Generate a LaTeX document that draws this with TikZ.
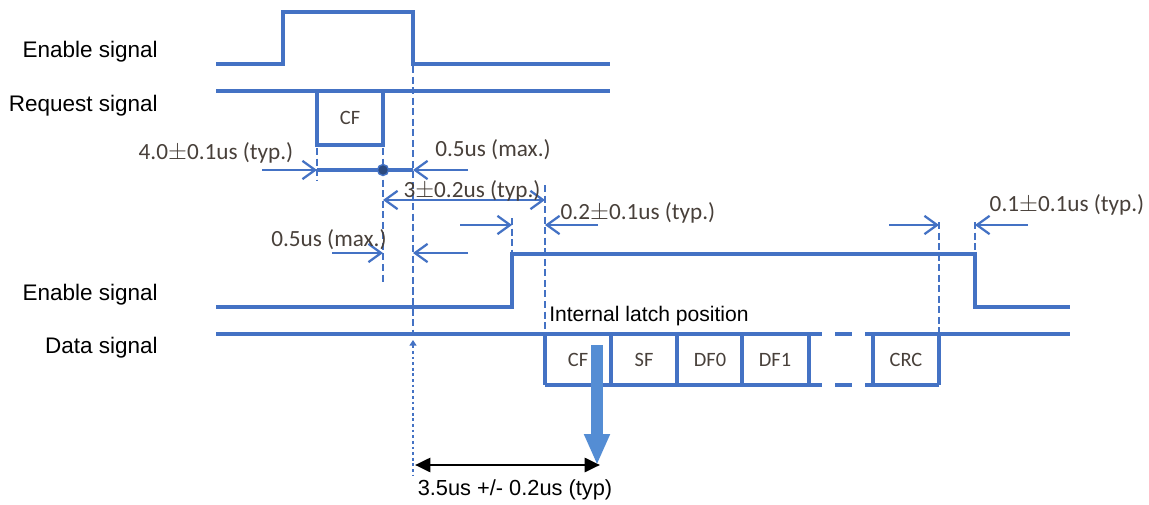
\documentclass[tikz,border=0pt]{standalone}
\usepackage{fontspec}
\setmainfont{Liberation Sans}
\newfontfamily\calibfont{Carlito}
\usetikzlibrary{arrows.meta, positioning}
\definecolor{wave}{RGB}{68,114,196}
\definecolor{latch}{RGB}{84,141,212}
\definecolor{notegray}{RGB}{72,64,58}

\begin{document}
\begin{tikzpicture}[
    x=0.025cm, y=-0.025cm,
    signal/.style={draw=wave, line width=3.2pt},
    frame/.style={draw=wave, line width=2.5pt},
    guide/.style={draw=wave, line width=1.6pt, dash pattern=on 5pt off 2.5pt},
    dim/.style={draw=wave, line width=1.6pt, -{Straight Barb[length=9pt, width=13pt]}},
    signame/.style={anchor=east, inner sep=0pt, font=\fontsize{16}{19}\selectfont},
    note/.style={inner sep=0pt, text=notegray, font=\calibfont\fontsize{16.5}{19}\selectfont},
    field/.style={inner sep=0pt, text=notegray, font=\calibfont\fontsize{14.5}{16}\selectfont}
]
\useasboundingbox (0,0) rectangle (1149,505);

% Signal names
\node[signame] (en1)  at (158,52)  {Enable signal};
\node[signame] (req)  at (158,106) {Request signal};
\node[signame] (en2)  at (158,295) {Enable signal};
\node[signame] (data) at (158,348) {Data signal};

% Waveforms
\draw[signal] (216,64) -- (283,64) -- (283,12) -- (413,12) -- (413,64) -- (610,64);
\draw[signal] (216,91) -- (610,91);
\draw[frame] (317,91) -- (317,145) -- (383,145) -- (383,91);
\node[field] (reqcf) at (350,118) {CF};

\draw[signal] (216,307) -- (512,307) -- (512,254) -- (975,254) -- (975,307) -- (1070,307);

\draw[signal] (216,334) -- (822,334);
\draw[signal] (835,334) -- (852,334);
\draw[signal] (865,334) -- (1070,334);
\draw[frame] (545,385) -- (822,385);
\draw[frame] (835,385) -- (852,385);
\draw[frame] (865,385) -- (939,385);
\foreach \x in {545,611,677,742,809,873,939}
    \draw[frame] (\x,334) -- (\x,385);

\node[field] (f1) at (578,360) {CF};
\node[field] (f2) at (644,360) {SF};
\node[field] (f3) at (710,360) {DF0};
\node[field] (f4) at (775,360) {DF1};
\node[field] (f5) at (906,360) {CRC};

% Guide lines
\draw[guide] (317,148) -- (317,180);
\draw[guide] (383,148) -- (383,283);
\draw[guide] (413,66) -- (413,336);
\draw[guide] (512,218) -- (512,254);
\draw[guide] (545,185) -- (545,334);
\draw[guide] (939,222) -- (939,334);
\draw[guide] (975,222) -- (975,254);
\draw[draw=wave, line width=1.9pt, dash pattern=on 2pt off 2pt,
      {Triangle[length=4pt, width=5pt]}-] (413,340) -- (413,476);

% Timing marks
\draw[dim] (262,170) -- (317,170);
\draw[signal, line width=2.6pt] (317,170) -- (413,170);
\draw[dim] (468,170) -- (413,170);
\filldraw[fill=wave!65!black, draw=wave, line width=1pt] (383,170) circle [radius=5.5];
\node[note] (t1) at (216,153) {4.0$\pm$0.1us (typ.)};
\node[note] (t2) at (493,150) {0.5us (max.)};

\draw[dim, {Straight Barb[length=9pt, width=13pt]}-{Straight Barb[length=9pt, width=13pt]}]
    (383,200) -- (545,200);
\node[note] (t3) at (472,191) {3$\pm$0.2us (typ.)};

\draw[dim] (460,225) -- (512,225);
\draw[dim] (598,225) -- (545,225);
\node[note] (t4) at (638,213) {0.2$\pm$0.1us (typ.)};

\draw[dim] (332,253) -- (383,253);
\draw[dim] (468,253) -- (413,253);
\node[note] (t5) at (329,240) {0.5us (max.)};

\draw[dim] (889,225) -- (939,225);
\draw[dim] (1028,225) -- (975,225);
\node[note] (t6) at (1067,205) {0.1$\pm$0.1us (typ.)};

% Latch position
\node[anchor=west, inner sep=0pt, font=\fontsize{15}{18}\selectfont] (latchtxt) at (549,316) {Internal latch position};
\draw[draw=latch, line width=8.5pt, -{Triangle[length=22pt, width=17pt]}] (597,345) -- (597,465);
\draw[line width=2.1pt, {Triangle[length=11pt, width=10pt]}-{Triangle[length=11pt, width=10pt]}]
    (415,465) -- (600,465);
\node[inner sep=0pt, font=\fontsize{15.5}{18}\selectfont] (total) at (515,490) {3.5us +/- 0.2us (typ)};

\end{tikzpicture}
\end{document}
